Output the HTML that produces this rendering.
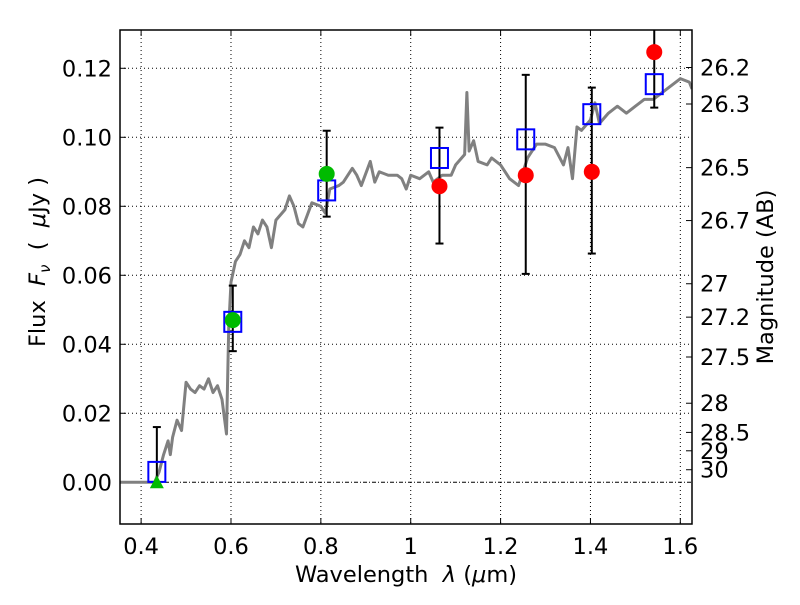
<!DOCTYPE html>
<html><head><meta charset="utf-8"><style>
body{margin:0;background:#fff;}
svg text{font-family:"DejaVu Sans","Liberation Sans",sans-serif;}
</style></head><body>
<svg id="chart" width="800" height="600" xmlns="http://www.w3.org/2000/svg"></svg>
<script>
const xTicks=[0.4,0.6,0.8,1.0,1.2,1.4,1.6];
const xTickLabels=["0.4","0.6","0.8","1","1.2","1.4","1.6"];
const yTicks=[0,0.02,0.04,0.06,0.08,0.10,0.12];
const yTickLabels=["0.00","0.02","0.04","0.06","0.08","0.10","0.12"];
const magTicks=[26.2,26.3,26.5,26.7,27,27.2,27.5,28,28.5,29,30];
const specX=[0.353,0.43,0.44,0.45,0.46,0.465,0.47,0.48,0.49,0.50,0.51,0.52,0.53,0.54,0.55,0.56,0.57,0.58,0.59,0.595,0.60,0.61,0.62,0.63,0.64,0.65,0.66,0.67,0.68,0.69,0.70,0.72,0.73,0.74,0.75,0.76,0.78,0.80,0.81,0.82,0.84,0.85,0.87,0.88,0.89,0.91,0.92,0.93,0.95,0.97,0.98,0.99,1.00,1.02,1.04,1.05,1.07,1.09,1.10,1.12,1.125,1.13,1.14,1.15,1.17,1.18,1.20,1.22,1.24,1.26,1.28,1.30,1.32,1.34,1.35,1.36,1.37,1.38,1.40,1.41,1.42,1.44,1.46,1.48,1.50,1.52,1.54,1.56,1.58,1.60,1.62,1.626];
const specY=[0,0,0.003,0.008,0.012,0.008,0.013,0.018,0.015,0.029,0.027,0.026,0.028,0.027,0.030,0.026,0.028,0.024,0.014,0.045,0.058,0.064,0.066,0.070,0.068,0.074,0.072,0.076,0.074,0.068,0.076,0.079,0.083,0.080,0.075,0.074,0.081,0.080,0.078,0.085,0.086,0.087,0.091,0.089,0.086,0.093,0.087,0.090,0.089,0.089,0.088,0.085,0.089,0.088,0.090,0.087,0.089,0.089,0.092,0.095,0.113,0.096,0.099,0.093,0.092,0.094,0.092,0.088,0.086,0.094,0.098,0.098,0.097,0.092,0.097,0.088,0.103,0.102,0.105,0.110,0.104,0.107,0.109,0.107,0.109,0.111,0.111,0.113,0.115,0.117,0.116,0.114];
const errX=[0.435,0.604,0.813,1.064,1.256,1.403,1.542];
const errLo=[0.0,0.038,0.077,0.0692,0.0604,0.0663,0.1086];
const errHi=[0.016,0.057,0.1019,0.1028,0.1181,0.1144,0.135];
const sqX=[0.435,0.604,0.813,1.064,1.256,1.403,1.542];
const sqY=[0.003,0.0465,0.0846,0.094,0.0994,0.1067,0.1154];
const redX=[1.064,1.256,1.403,1.542];
const redY=[0.0858,0.089,0.090,0.1247];
const greenX=[0.604,0.813];
const greenY=[0.047,0.0894];
const triX=[0.435];
const triY=[0.0];

const L=120,R=692,T=30,B=524,xmin=0.353,xmax=1.626,ymin=-0.0121,ymax=0.1311;
const sx=v=>L+(v-xmin)/(xmax-xmin)*(R-L);
const sy=v=>B-(v-ymin)/(ymax-ymin)*(B-T);
const svg=document.getElementById('chart');
const NS='http://www.w3.org/2000/svg';
function mk(tag,attrs,parent){const e=document.createElementNS(NS,tag);for(const k in attrs)e.setAttribute(k,attrs[k]);(parent||svg).appendChild(e);return e;}
const defs=mk('defs',{});const cp=mk('clipPath',{id:'clip'},defs);mk('rect',{x:L,y:T,width:R-L,height:B-T},cp);
const grid=mk('g',{});
xTicks.forEach((t,i)=>{const x=sx(t);
 mk('line',{x1:x,x2:x,y1:T,y2:B,stroke:'#000','stroke-width':1,'stroke-dasharray':'1,3'},grid);
 mk('line',{x1:x,x2:x,y1:B,y2:B-6,stroke:'#000'});mk('line',{x1:x,x2:x,y1:T,y2:T+6,stroke:'#000'});
 const tx=mk('text',{x:x,y:B+30,'font-size':22.5,'text-anchor':'middle'});tx.textContent=xTickLabels[i];
 });
yTicks.forEach((t,i)=>{const y=sy(t);
 if(t!==0)mk('line',{x1:L,x2:R,y1:y,y2:y,stroke:'#000','stroke-width':1,'stroke-dasharray':'1,3'},grid);
 mk('line',{x1:L,x2:L+6,y1:y,y2:y,stroke:'#000'});
 const tx=mk('text',{x:L-8,y:y+8,'font-size':22.5,'text-anchor':'end'});tx.textContent=yTickLabels[i];
 });
mk('line',{x1:L,x2:R,y1:sy(0),y2:sy(0),stroke:'#000','stroke-width':1,'stroke-dasharray':'4,2,1,2'},grid);
magTicks.forEach(m=>{const f=Math.pow(10,(23.9-m)/2.5);const y=sy(f);
 mk('line',{x1:R,x2:R-6,y1:y,y2:y,stroke:'#000'});
 const tx=mk('text',{x:R+8,y:y+8,'font-size':22.5});tx.textContent=String(m);
 });
const plot=mk('g',{'clip-path':'url(#clip)'});
const sp=mk('polyline',{points:specX.map((x,i)=>sx(x)+','+sy(specY[i])).join(' '),fill:'none',stroke:'#808080','stroke-width':3,'stroke-linejoin':'round'},plot);

errX.forEach((x,i)=>{const g=mk('g',{},plot);
 const X=sx(x);mk('line',{x1:X,x2:X,y1:sy(errLo[i]),y2:sy(errHi[i]),stroke:'#000','stroke-width':2},g);
 [errLo[i],errHi[i]].forEach(v=>mk('line',{x1:X-4,x2:X+4,y1:sy(v),y2:sy(v),stroke:'#000','stroke-width':2},g));});
sqX.forEach((x,i)=>{const r=mk('rect',{x:sx(x)-8.5,y:sy(sqY[i])-10,width:17,height:20,fill:'none',stroke:'#0000ff','stroke-width':2},plot);
 });
redX.forEach((x,i)=>{const c=mk('circle',{cx:sx(x),cy:sy(redY[i]),r:8,fill:'#ff0000'},plot);
 });
greenX.forEach((x,i)=>{const c=mk('circle',{cx:sx(x),cy:sy(greenY[i]),r:8,fill:'#00bb00'},plot);
 });
triX.forEach((x,i)=>{const X=sx(x),Y=sy(triY[i]);const p=mk('polygon',{points:`${X-7},${Y+6} ${X+7},${Y+6} ${X},${Y-7}`,fill:'#00bb00'},plot);
 });
const fr=mk('rect',{x:L,y:T,width:R-L,height:B-T,fill:'none',stroke:'#000','stroke-width':1.5});

const xl=mk('text',{x:406,y:582,'font-size':22.5,'text-anchor':'middle','xml:space':'preserve'});xl.innerHTML='Wavelength&#160;&#160;<tspan font-style="italic">λ</tspan> (<tspan font-style="italic">μ</tspan>m)';

const yl=mk('text',{x:0,y:0,'font-size':22.5,'text-anchor':'middle',transform:'translate(45,262) rotate(-90)'});yl.innerHTML='Flux&#160;&#160;<tspan font-style="italic">F</tspan><tspan font-style="italic" font-size="15" dy="5">ν</tspan><tspan dy="-5">&#160;&#160;(&#160;&#160;</tspan><tspan font-style="italic">μ</tspan>Jy )';

const ml=mk('text',{x:0,y:0,'font-size':22.5,'text-anchor':'middle',transform:'translate(773,277) rotate(-90)'});ml.textContent='Magnitude (AB)';

</script>
</body></html>
